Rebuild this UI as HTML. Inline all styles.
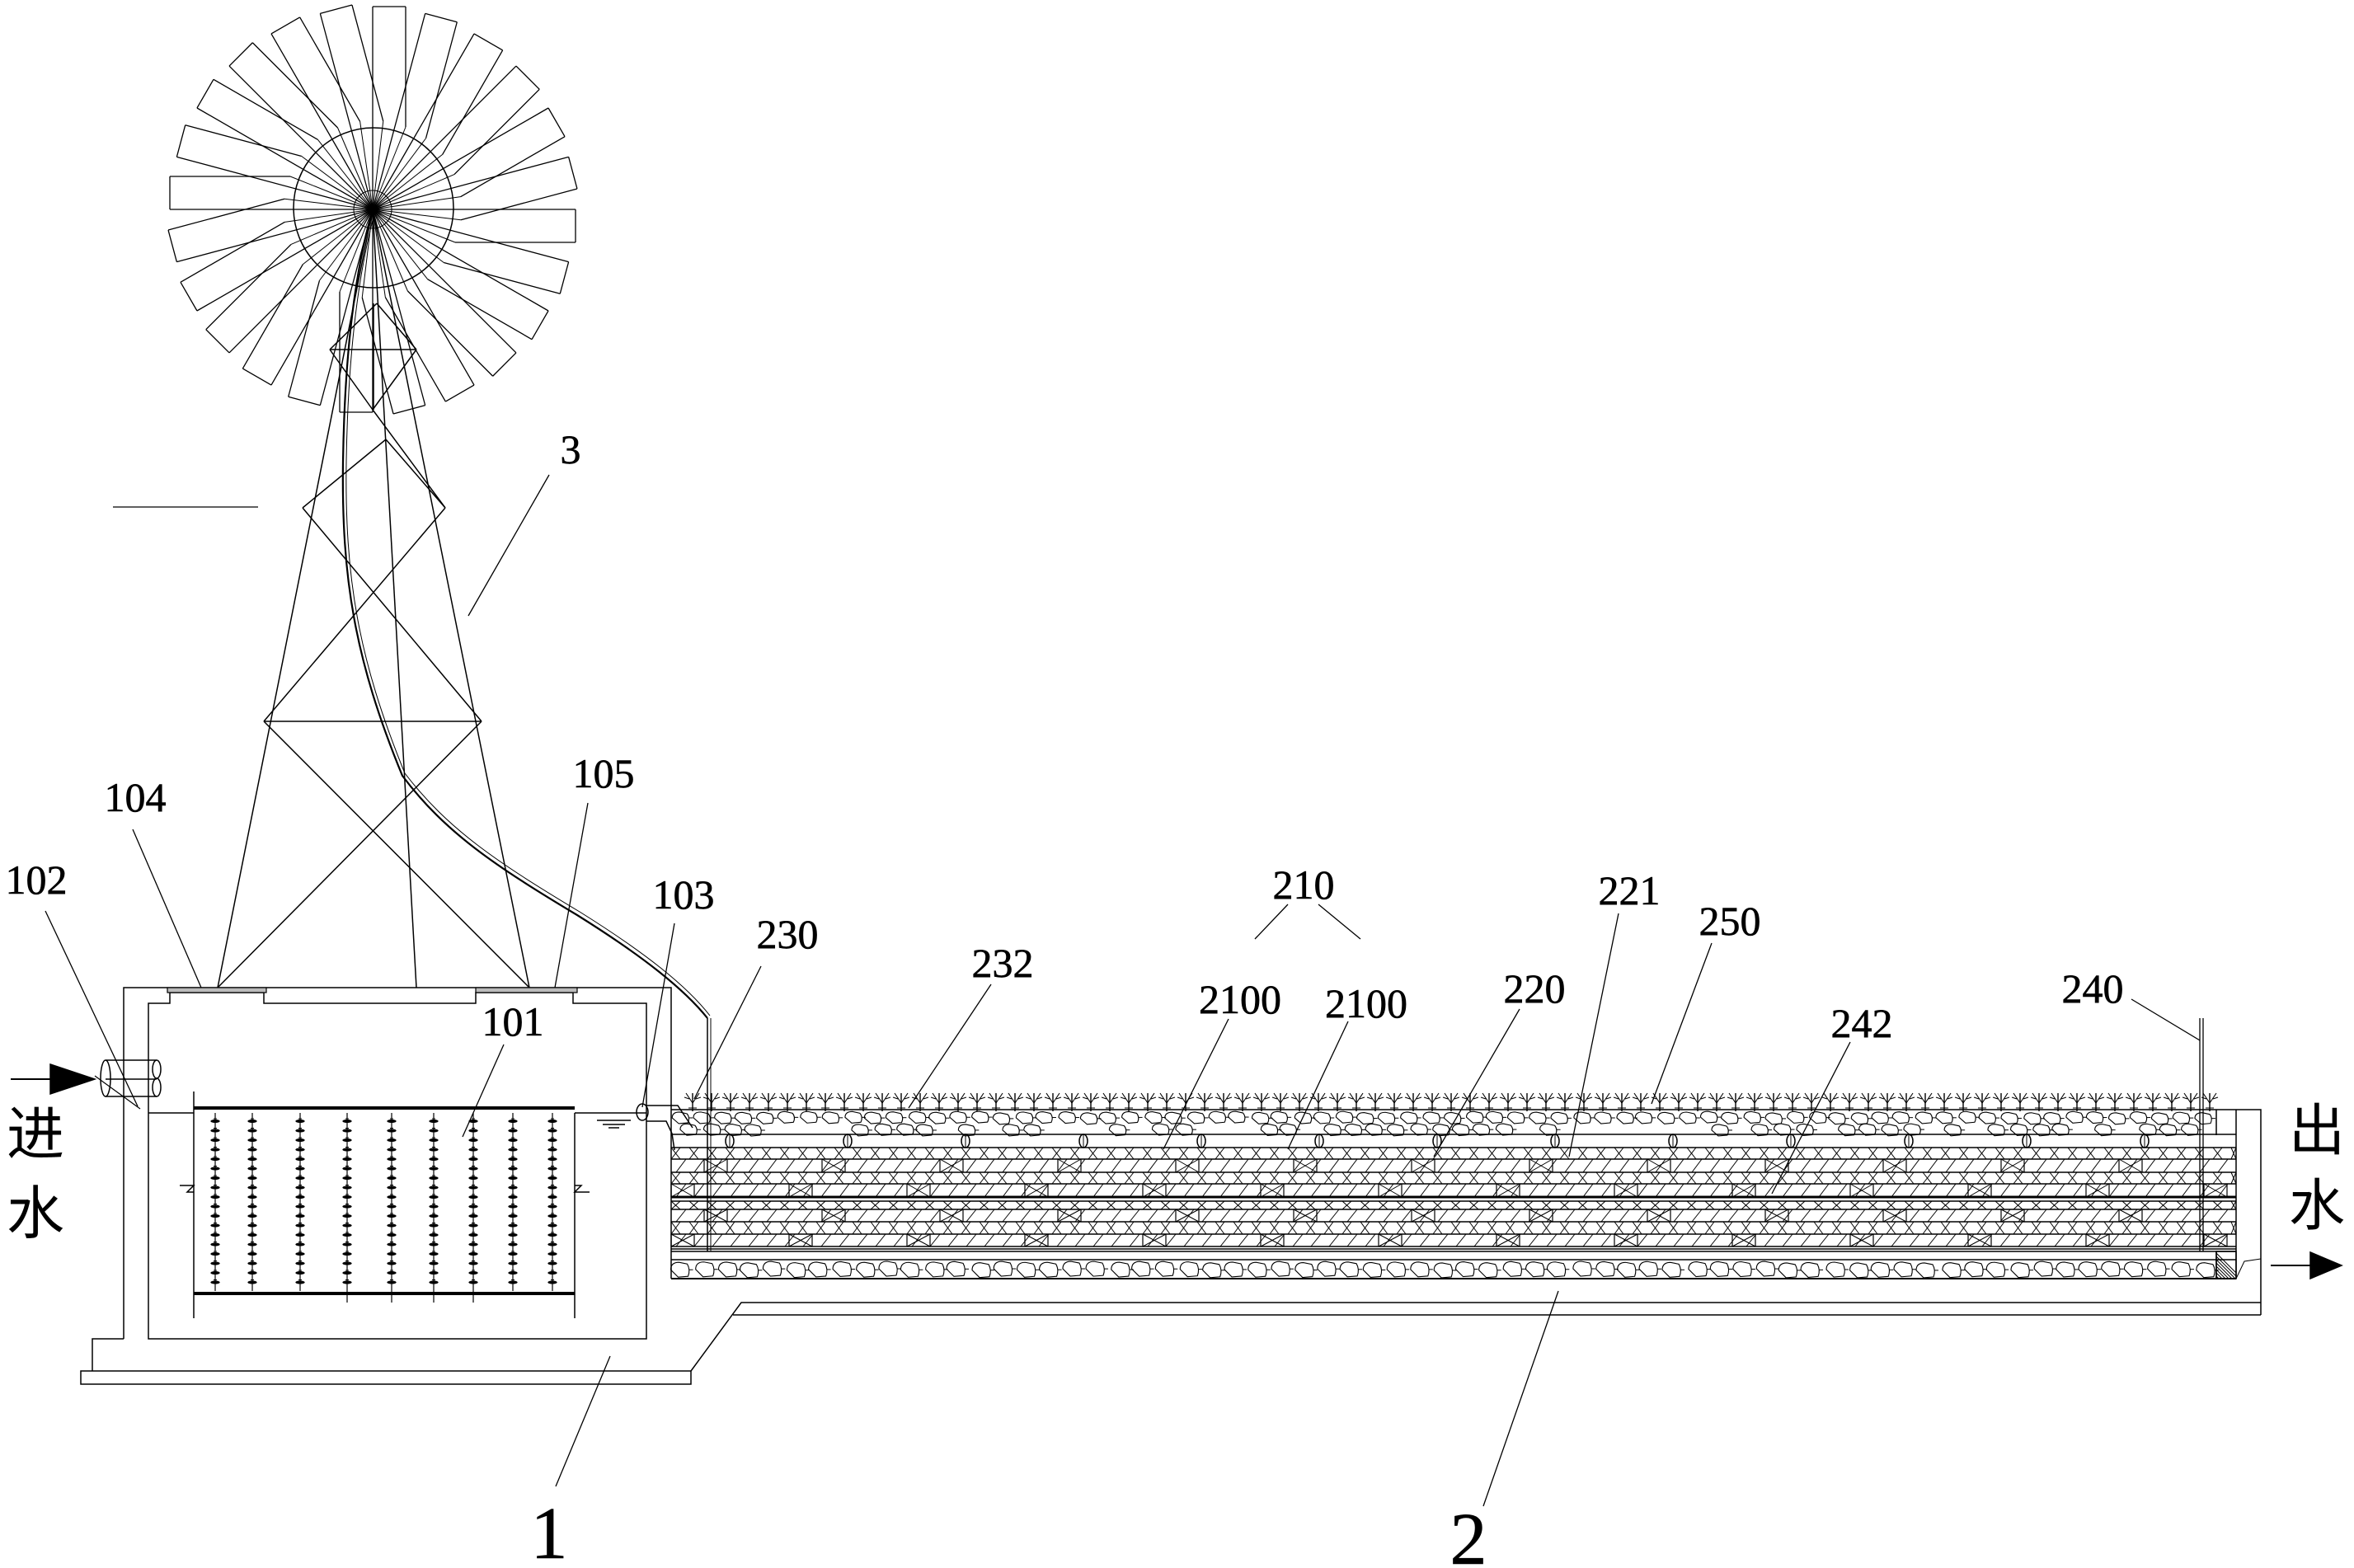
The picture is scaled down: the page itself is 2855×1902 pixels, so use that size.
<!DOCTYPE html>
<html><head><meta charset="utf-8"><style>
html,body{margin:0;padding:0;background:#fff;}
svg{display:block;}
text{font-family:"Liberation Serif","Noto Serif CJK SC",serif;fill:#000;}
.cn{font-family:"Liberation Sans","Noto Sans CJK SC",sans-serif;}
</style></head><body>
<svg id="s" xmlns="http://www.w3.org/2000/svg" width="2855" height="1902" viewBox="0 0 2855 1902">
<rect width="2855" height="1902" fill="#fff"/>
<g id="g" stroke="#000" stroke-width="1.5" fill="none"></g>
<g id="t" font-size="50" stroke="#000" stroke-width="0.6">
<text x="692" y="562" text-anchor="middle">3</text>
<text x="164" y="984" text-anchor="middle">104</text>
<text x="732" y="955" text-anchor="middle">105</text>
<text x="44" y="1084" text-anchor="middle">102</text>
<text x="829" y="1102" text-anchor="middle">103</text>
<text x="955" y="1150" text-anchor="middle">230</text>
<text x="622" y="1256" text-anchor="middle">101</text>
<text x="1581" y="1090" text-anchor="middle">210</text>
<text x="1216" y="1185" text-anchor="middle">232</text>
<text x="1504" y="1229" text-anchor="middle">2100</text>
<text x="1657" y="1234" text-anchor="middle">2100</text>
<text x="1861" y="1216" text-anchor="middle">220</text>
<text x="1976" y="1097" text-anchor="middle">221</text>
<text x="2098" y="1134" text-anchor="middle">250</text>
<text x="2258" y="1258" text-anchor="middle">242</text>
<text x="2538" y="1216" text-anchor="middle">240</text>
<text x="666" y="1890" text-anchor="middle" font-size="90">1</text>
<text x="1781" y="1897" text-anchor="middle" font-size="90">2</text>
<text class="cn" x="8" y="1400" font-size="70" stroke-width="0">进</text>
<text class="cn" x="8" y="1496" font-size="70" stroke-width="0">水</text>
<text class="cn" x="2776" y="1395" font-size="68" stroke-width="0">出</text>
<text class="cn" x="2776" y="1486" font-size="68" stroke-width="0">水</text>
</g>
</svg>
<script>
var g=document.getElementById('g');var NS='http://www.w3.org/2000/svg';
function E(t,a){var e=document.createElementNS(NS,t);for(var k in a)e.setAttribute(k,a[k]);g.appendChild(e);return e;}
function L(x1,y1,x2,y2,w){E('line',{x1:x1,y1:y1,x2:x2,y2:y2,'stroke-width':w||1.5});}
function P(d,w,f){E('path',{d:d,'stroke-width':w||1.5,fill:f||'none'});}
var seed=7;function R(){seed=(seed*9301+49297)%233280;return seed/233280;}
// ---- windmill rotor
var hx=452,hy=254;
E('circle',{cx:453,cy:252,r:97});E('circle',{cx:hx,cy:hy,r:23,'stroke-width':1});
for(var i=0;i<24;i++){var a=i*15*Math.PI/180;var c=Math.cos(a),s=Math.sin(a),nx=-s,ny=c;
 var x1=hx+246*c,y1=hy+246*s;
 var ix=hx+100*c+40*nx,iy=hy+100*s+40*ny,ox=hx+246*c+40*nx,oy=hy+246*s+40*ny;
 L(hx,hy,x1,y1,1.3);L(ix,iy,ox,oy,1.3);L(x1,y1,ox,oy,1.3);L(hx,hy,ix,iy,1);}
// ---- tower
L(hx,hy,264,1198);L(hx,hy,642,1198);L(hx,hy,505,1198);
L(457,368,400,424);L(400,424,452,497);L(452,497,505,424);L(505,424,457,368);L(400,424,505,424);L(453,368,453,497);
L(468,533,367,616);L(468,533,540,616);L(367,616,584,875);L(540,616,320,875);L(452,497,540,616);
L(320,875,584,875);L(320,875,642,1198);L(584,875,264,1198);
L(137,615,313,615,1.3);
// cable
P('M452,254 C430,330 418,430 416,560 C414,700 430,800 488,941 C540,1010 600,1050 700,1110 C780,1160 830,1200 858,1235',2.2);
P('M455,256 C434,332 422,432 420,560 C418,700 434,798 491,938 C543,1006 603,1046 703,1106 C783,1156 833,1196 861,1232',1);
L(858,1235,858,1518,1.5);L(862,1235,862,1518,1);
// ---- tank
P('M150,1624 V1198 H814 V1551');
P('M180,1624 V1217 H206 V1204 H320 V1217 H577 V1204 H695 V1217 H784 V1624 Z');
P('M150,1624 H112 V1663');
E('rect',{x:98,y:1663,width:740,height:16});
P('M838,1663 L899,1580 H2742');L(889,1595,2742,1595);
E('rect',{x:203,y:1198,width:120,height:6,fill:'#bbb','stroke-width':1.2});
E('rect',{x:577,y:1198,width:123,height:6,fill:'#bbb','stroke-width':1.2});
// inlet pipe
E('ellipse',{cx:128,cy:1308,rx:6,ry:22});E('ellipse',{cx:190,cy:1297,rx:5,ry:11});E('ellipse',{cx:190,cy:1319,rx:5,ry:11});
L(128,1286,190,1286);L(128,1330,190,1330);L(128,1309,190,1309);
L(115,1305,170,1345,1.2);
L(13,1309,65,1309,2);E('path',{d:'M61,1291 L115,1309 L61,1327 Z',fill:'#000'});
// module
L(235,1344,697,1344,4);L(235,1569,697,1569,4);
L(235,1324,235,1599);L(697,1350,697,1599);
L(180,1350,235,1350);L(697,1350,784,1350);
P('M218,1438 L235,1438 L227,1446 L235,1446');P('M697,1438 L705,1438 L697,1446 L715,1446');
L(724,1359,765,1359);L(731,1364,758,1364);L(738,1368,751,1368);
var fx=[261,306,364,421,475,526,574,622,670];
for(var k=0;k<fx.length;k++){var x=fx[k];L(x,1350,x,k>2&&k<7?1580:1566,1.2);
 for(var y=1360;y<1560;y+=11.5){E('ellipse',{cx:x,cy:y,rx:5.5,ry:1.8,fill:'#000','stroke-width':0.5});L(x-2,y-3,x+2,y-3,1);}}
// outlet pipe 103
E('ellipse',{cx:779,cy:1349,rx:7,ry:10});
P('M784,1341 H822 L840,1368');P('M784,1360 H808 L815,1375 L818,1395');
// ---- bed
var BX1=814,BX2=2712;
P('M814,1346 H2742 V1595');L(2712,1346,2712,1551);
L(814,1551,2712,1551,2);
var lines=[1376,1392,1406,1422,1436,1452,1457,1467,1482,1497,1512,1515,1518,1528];
for(var i=0;i<lines.length;i++)L(BX1,lines[i],BX2,lines[i],(lines[i]==1452)?3:1.5);
function xl(y1,y2){for(var x=BX1;x<BX2;x+=22){L(x,y2,Math.min(x+11,BX2),y1,1);L(x,y1,Math.min(x+11,BX2),y2,1);}}
xl(1392,1406);xl(1422,1436);xl(1457,1467);xl(1482,1497);
function br(y1,y2,off){for(var x=BX1+6;x<BX2-12;x+=22)L(x,y2,x+12,y1,1);
 for(var x=BX1+off;x<BX2;x+=143){L(x,y1,x,y2,1.2);L(x+28,y1,x+28,y2,1.2);L(x,y1,x+28,y2,1);L(x+28,y1,x,y2,1);}}
br(1406,1422,40);br(1436,1452,0);br(1467,1482,40);br(1497,1512,0);
for(var x=885;x<2700;x+=143){E('ellipse',{cx:x,cy:1384,rx:5,ry:8});L(x,1376,x,1392,1);}
// gravel
function grav(y1,y2,rx,ry){for(var x=BX1+10;x<2688;x+=rx*2+4){for(var r=0;r<2;r++){var cy=y1+ry+2+r*(y2-y1)/2+R()*2,cx=x+(r?rx:0)+R()*4;
 if(cy+ry>y2+2)continue;var d='M'+(cx-rx)+','+cy+' Q'+(cx-rx)+','+(cy-ry)+' '+(cx-2)+','+(cy-ry)+' L'+(cx+rx-4)+','+(cy-ry+2)+' Q'+(cx+rx)+','+cy+' '+(cx+rx-3)+','+(cy+ry-1)+' L'+(cx-3)+','+(cy+ry)+' Z';P(d,1.1);
 L(cx+rx-2,cy,cx+rx+3,cy,1);}}}
grav(1346,1376,11,7);grav(1528,1551,12,9);
L(2688,1346,2688,1377);L(2688,1518,2688,1551);
for(var y=1520;y<1551;y+=4)L(2688,y,Math.min(2712,2688+(1551-y)),Math.min(1551,y+24),1);
E('rect',{x:2688,y:1518,width:24,height:33});
// plants
for(var x=840;x<2700;x+=23){L(x,1348,x,1326,1.4);L(x,1338,x-8,1326,1.1);L(x,1338,x+8,1326,1.1);L(x-4,1333,x-10,1331,1);L(x+4,1333,x+10,1331,1);L(x-5,1344,x+5,1344,1);}
// 240 pipe
L(2668,1235,2668,1518,1.3);L(2672,1235,2672,1518,1.3);
// outlet arrow
L(2754,1535,2805,1535,2);E('path',{d:'M2802,1519 L2840,1535 L2802,1551 Z',fill:'#000'});
P('M2712,1551 L2722,1530 L2742,1527',1);
// leaders
var ld=[[666,576,568,747],[161,1006,244,1198],[713,974,673,1198],[55,1105,167,1342],[818,1120,779,1343],[923,1172,842,1333],[611,1267,561,1379],[740,1645,674,1803],
[1562,1097,1522,1139],[1599,1097,1650,1139],[1202,1194,1102,1344],[1490,1236,1411,1394],[1635,1239,1562,1394],[1843,1224,1739,1403],[1963,1108,1903,1403],[2076,1144,2003,1339],[2244,1264,2149,1448],[2585,1212,2668,1262],[1799,1827,1890,1566]];
for(var i=0;i<ld.length;i++)L(ld[i][0],ld[i][1],ld[i][2],ld[i][3],1.3);
</script>
</body></html>
